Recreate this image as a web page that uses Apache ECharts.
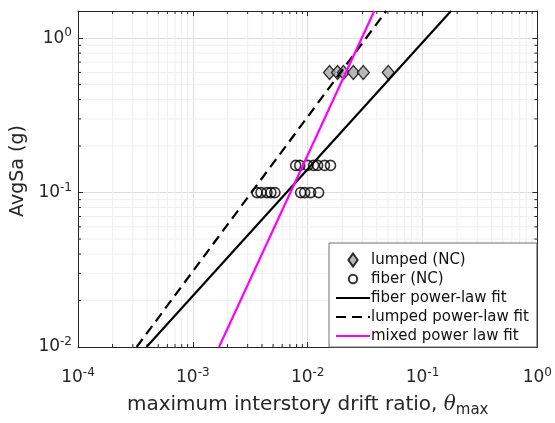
<!DOCTYPE html>
<html>
<head>
<meta charset="utf-8">
<script src="https://cdn.jsdelivr.net/npm/echarts@6/dist/echarts.min.js"></script>
<style>
  html, body { margin: 0; padding: 0; background: #fff; }
  #chart { width: 555px; height: 423px; }
</style>
</head>
<body>
<div id="chart"></div>
<script>
// Lumped-plasticity model (NC): peak drift vs. AvgSa
const lumpedTheta = [0.0155, 0.0182, 0.0205, 0.025, 0.0305, 0.0503];
const lumpedSa    = [0.6, 0.6, 0.6, 0.6, 0.6, 0.6];

// Fiber model (NC): peak drift vs. AvgSa
const fiberTheta = [0.00362, 0.00392, 0.00442, 0.00478, 0.00518, 0.00869, 0.00942, 0.0106, 0.01245,
                    0.00787, 0.00853, 0.0100, 0.01127, 0.01221, 0.0140, 0.0158];
const fiberSa    = [0.1, 0.1, 0.1, 0.1, 0.1, 0.1, 0.1, 0.1, 0.1,
                    0.15, 0.15, 0.15, 0.15, 0.15, 0.15, 0.15];

// Power-law fits, end points (theta, AvgSa)
const fiberFitTheta  = [0.000395, 0.177];
const fiberFitSa     = [0.01, 1.5];
const lumpedFitTheta = [0.000324, 0.0483];
const lumpedFitSa    = [0.01, 1.5];
const mixedFitTheta  = [0.00169, 0.038];
const mixedFitSa     = [0.01, 1.5];

// Axis ranges and decade tick labels
const xRange = [1e-4, 1];
const yRange = [0.01, 1.5];
const xTickExp = { 0.0001: '-4', 0.001: '-3', 0.01: '-2', 0.1: '-1', 1: '0' };
const yTickExp = { 0.01: '-2', 0.1: '-1', 1: '0' };

const pairs = (xs, ys) => xs.map((x, i) => [x, ys[i]]);

// Minor log positions (2..9 in each decade) for grid and tick marks
function minorPositions(lo, hi) {
  const out = [];
  for (let d = Math.floor(Math.log10(lo)); d <= Math.ceil(Math.log10(hi)); d++) {
    for (let k = 2; k <= 9; k++) {
      const v = k * Math.pow(10, d);
      if (v > lo && v < hi) out.push(v);
    }
  }
  return out;
}
const xMinor = minorPositions(xRange[0], xRange[1]);
const yMinor = minorPositions(yRange[0], yRange[1]);

const FONT = '"DejaVu Sans", "Liberation Sans", Arial, sans-serif';
const AX = '#262626';

function powLabel(map) {
  return function (v) {
    const key = Object.keys(map).find(k => Math.abs(Math.log10(+k) - Math.log10(v)) < 1e-6);
    return key === undefined ? '' : '{b|10}{s|' + map[key] + '}';
  };
}
const tickRich = {
  b: { fontSize: 17, fontFamily: FONT, color: AX },
  s: { fontSize: 12, fontFamily: FONT, color: AX, padding: [0, 0, 10, 0] }
};

function minorRender(isX) {
  return function (params, api) {
    const v = api.value(isX ? 0 : 1);
    let a, b;
    if (isX) {
      a = api.coord([v, yRange[0]]);
      b = api.coord([v, yRange[1]]);
    } else {
      a = api.coord([xRange[0], v]);
      b = api.coord([xRange[1], v]);
    }
    const t = 3;
    const children = [
      { type: 'line', shape: { x1: a[0], y1: a[1], x2: b[0], y2: b[1] },
        style: { stroke: '#efefef', lineWidth: 1 } }
    ];
    if (isX) {
      children.push({ type: 'line', shape: { x1: a[0], y1: a[1], x2: a[0], y2: a[1] - t }, style: { stroke: AX, lineWidth: 1 } });
      children.push({ type: 'line', shape: { x1: b[0], y1: b[1], x2: b[0], y2: b[1] + t }, style: { stroke: AX, lineWidth: 1 } });
    } else {
      children.push({ type: 'line', shape: { x1: a[0], y1: a[1], x2: a[0] + t, y2: a[1] }, style: { stroke: AX, lineWidth: 1 } });
      children.push({ type: 'line', shape: { x1: b[0], y1: b[1], x2: b[0] - t, y2: b[1] }, style: { stroke: AX, lineWidth: 1 } });
    }
    return { type: 'group', children: children };
  };
}

const chart = echarts.init(document.getElementById('chart'), null, { renderer: 'canvas' });

const hideSymbol = { opacity: 0 };

const option = {
  animation: false,
  backgroundColor: '#ffffff',
  textStyle: { fontFamily: FONT },
  grid: { left: 78, right: 15, top: 11, bottom: 67, show: false },
  xAxis: [
    {
      type: 'log', logBase: 10, min: xRange[0], max: xRange[1],
      name: '{t|maximum interstory drift ratio, }{th|θ}{sub|max}',
      nameLocation: 'middle', nameGap: 44,
      nameTextStyle: {
        rich: {
          t: { fontSize: 20, fontFamily: FONT, color: AX },
          th: { fontSize: 20, fontFamily: '"DejaVu Serif", serif', fontStyle: 'italic', color: AX },
          sub: { fontSize: 15, fontFamily: FONT, color: AX, padding: [12, 0, 0, 0] }
        }
      },
      axisLine: { show: true, onZero: false, lineStyle: { color: AX, width: 1 } },
      axisTick: { show: true, inside: true, length: 5, lineStyle: { color: AX } },
      axisLabel: { formatter: powLabel(xTickExp), rich: tickRich, margin: 20 },
      splitLine: { show: true, lineStyle: { color: '#dddddd', width: 1 } },
      minorTick: { show: false }
    },
    {
      type: 'log', logBase: 10, min: xRange[0], max: xRange[1], position: 'top',
      axisLine: { show: true, onZero: false, lineStyle: { color: AX, width: 1 } },
      axisTick: { show: true, inside: true, length: 5, lineStyle: { color: AX } },
      axisLabel: { show: false },
      splitLine: { show: false }
    }
  ],
  yAxis: [
    {
      type: 'log', logBase: 10, min: yRange[0], max: yRange[1],
      name: 'AvgSa (g)', nameLocation: 'middle', nameGap: 39,
      nameTextStyle: { fontSize: 19, fontFamily: FONT, color: AX, padding: [0, 0, 0, 16] },
      axisLine: { show: true, onZero: false, lineStyle: { color: AX, width: 1 } },
      axisTick: { show: true, inside: true, length: 5, lineStyle: { color: AX } },
      axisLabel: { formatter: powLabel(yTickExp), rich: tickRich, margin: 6 },
      splitLine: { show: true, lineStyle: { color: '#dddddd', width: 1 } }
    },
    {
      type: 'log', logBase: 10, min: yRange[0], max: yRange[1], position: 'right',
      axisLine: { show: true, onZero: false, lineStyle: { color: AX, width: 1 } },
      axisTick: { show: true, inside: true, length: 5, lineStyle: { color: AX } },
      axisLabel: { show: false },
      splitLine: { show: false }
    }
  ],
  legend: {
    orient: 'vertical',
    left: 329, top: 243,
    padding: [9, 8, 3, 6],
    itemGap: 3,
    itemWidth: 34, itemHeight: 13,
    backgroundColor: '#ffffff',
    borderColor: '#6e6e6e', borderWidth: 1,
    textStyle: { fontSize: 15, lineHeight: 16, fontFamily: FONT, color: '#111111', padding: [0, 0, 0, -4] },
    data: [
      { name: 'lumped (NC)', icon: 'path://M5,0L10,7L5,14L0,7Z' },
      { name: 'fiber (NC)', icon: 'path://M0,0M14,14M11.5,7A4.5,4.5,0,1,1,2.5,7A4.5,4.5,0,1,1,11.5,7Z' },
      { name: 'fiber power-law fit', itemStyle: hideSymbol },
      { name: 'lumped power-law fit', itemStyle: hideSymbol },
      { name: 'mixed power law fit', itemStyle: hideSymbol }
    ]
  },
  series: [
    {
      type: 'custom', name: 'xminor', silent: true, z: 0,
      renderItem: minorRender(true), clip: false,
      data: xMinor.map(v => [v, yRange[0]])
    },
    {
      type: 'custom', name: 'yminor', silent: true, z: 0,
      renderItem: minorRender(false), clip: false,
      data: yMinor.map(v => [xRange[0], v])
    },
    {
      name: 'lumped (NC)', type: 'scatter', z: 3,
      symbol: 'diamond', symbolSize: [12, 14],
      itemStyle: { color: '#a8a8a8', borderColor: '#000000', borderWidth: 1.3 },
      data: pairs(lumpedTheta, lumpedSa)
    },
    {
      name: 'fiber (NC)', type: 'scatter', z: 3,
      symbol: 'circle', symbolSize: 10,
      itemStyle: { color: 'rgba(255,255,255,0)', borderColor: '#000000', borderWidth: 1.6 },
      data: pairs(fiberTheta, fiberSa)
    },
    {
      name: 'fiber power-law fit', type: 'line', z: 4,
      symbol: 'none', showSymbol: false,
      lineStyle: { color: '#000000', width: 2.2 },
      itemStyle: { color: '#000000' },
      data: pairs(fiberFitTheta, fiberFitSa)
    },
    {
      name: 'lumped power-law fit', type: 'line', z: 4,
      symbol: 'none', showSymbol: false,
      lineStyle: { color: '#000000', width: 2.2, type: [10, 6] },
      itemStyle: { color: '#000000' },
      data: pairs(lumpedFitTheta, lumpedFitSa)
    },
    {
      name: 'mixed power law fit', type: 'line', z: 4,
      symbol: 'none', showSymbol: false,
      lineStyle: { color: '#ff00ff', width: 2.2 },
      itemStyle: { color: '#ff00ff' },
      data: pairs(mixedFitTheta, mixedFitSa)
    }
  ]
};

chart.setOption(option);
</script>
</body>
</html>
